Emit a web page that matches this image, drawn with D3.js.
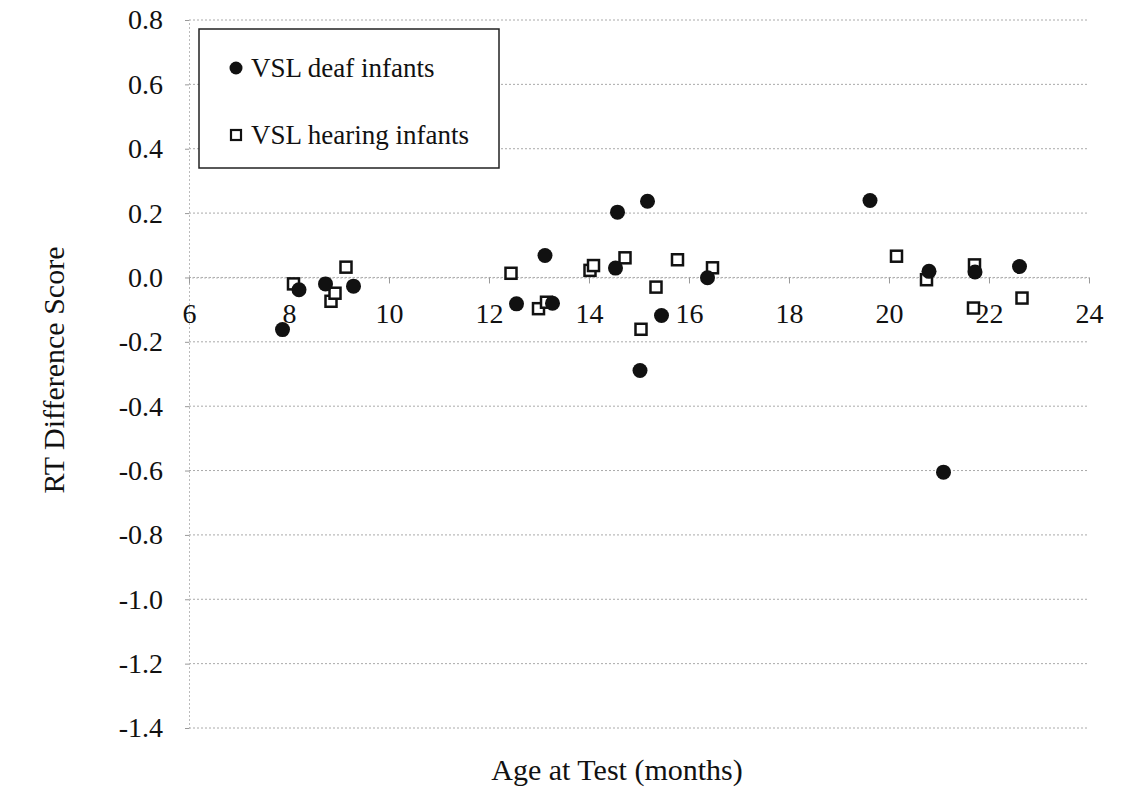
<!DOCTYPE html>
<html>
<meta charset="utf-8">
<script src="https://d3js.org/d3.v7.min.js"></script>
<style>
    body { margin: 0; background: #fff; }
    text { font-family: "Liberation Serif", "Times New Roman", serif; fill: #111; }
</style>
<body>
<svg width="1138" height="792"></svg>
<script>
    // deaf infants (filled circles)
    const deafAge   = [7.87, 8.2, 8.73, 9.29, 12.55, 13.12, 13.27, 14.53, 14.57, 15.02, 15.17, 15.45, 16.37, 19.62, 20.8, 21.09, 21.72, 22.61];
    const deafScore = [-0.162, -0.038, -0.02, -0.027, -0.082, 0.068, -0.08, 0.029, 0.203, -0.289, 0.237, -0.118, -0.001, 0.239, 0.019, -0.605, 0.017, 0.034];
    // hearing infants (open squares)
    const hearAge   = [8.09, 8.84, 8.92, 9.14, 12.44, 12.99, 13.15, 14.02, 14.09, 14.72, 15.04, 15.34, 15.77, 16.47, 20.15, 20.75, 21.69, 21.71, 22.66];
    const hearScore = [-0.02, -0.074, -0.049, 0.032, 0.013, -0.097, -0.077, 0.022, 0.037, 0.061, -0.161, -0.03, 0.055, 0.03, 0.066, -0.007, -0.095, 0.039, -0.064];

    const xTicks = [6, 8, 10, 12, 14, 16, 18, 20, 22, 24];
    const yTicks = [0.8, 0.6, 0.4, 0.2, 0.0, -0.2, -0.4, -0.6, -0.8, -1.0, -1.2, -1.4];
    const legendLabels = ["VSL deaf infants", "VSL hearing infants"];

    const svg = d3.select("svg");
    const x = d3.scaleLinear().domain([6, 24]).range([189, 1089]);
    const y = d3.scaleLinear().domain([-1.4, 0.8]).range([728, 20]);

    // gridlines
    svg.append("g").selectAll("line")
        .data(yTicks)
        .enter().append("line")
        .attr("x1", x(6)).attr("x2", x(24))
        .attr("y1", d => y(d)).attr("y2", d => y(d))
        .style("stroke", "#aaa").style("stroke-width", 1).style("stroke-dasharray", "2,2");

    // y axis
    const yAxis = d3.axisLeft(y).tickValues(yTicks).tickSize(4).tickPadding(22);
    const gy = svg.append("g").attr("transform", `translate(${x(6)},0)`).call(yAxis);
    gy.select(".domain").style("stroke", "#bbb").style("stroke-dasharray", "2,2");
    gy.selectAll(".tick line").style("stroke", "#999");
    gy.selectAll("text")
        .style("font-size", "28px").style("font-family", "Liberation Serif")
        .text(d => d3.format(".1f")(d).replace("−", "-"));

    // x axis crossing at y = 0
    const xAxis = d3.axisBottom(x).tickValues(xTicks).tickSize(6).tickPadding(20);
    const gx = svg.append("g").attr("transform", `translate(0,${y(0)})`).call(xAxis);
    gx.select(".domain").style("stroke", "#bbb").style("stroke-dasharray", "2,2");
    gx.selectAll(".tick line").style("stroke", "#999");
    gx.selectAll("text").style("font-size", "28px").style("font-family", "Liberation Serif");

    // points
    const hear = hearAge.map((a, i) => ({ a, s: hearScore[i] }));
    const deaf = deafAge.map((a, i) => ({ a, s: deafScore[i] }));

    svg.append("g").selectAll("rect")
        .data(hear)
        .enter().append("rect")
        .attr("x", d => x(d.a) - 5.5).attr("y", d => y(d.s) - 5.5)
        .attr("width", 11).attr("height", 11)
        .style("fill", "#fff").style("stroke", "#111").style("stroke-width", 2.5);

    svg.append("g").selectAll("circle")
        .data(deaf)
        .enter().append("circle")
        .attr("cx", d => x(d.a)).attr("cy", d => y(d.s))
        .attr("r", 7.5)
        .style("fill", "#111");

    // legend
    const legend = svg.append("g");
    legend.append("rect")
        .attr("x", 199).attr("y", 29).attr("width", 300).attr("height", 139)
        .style("fill", "#fff").style("stroke", "#222").style("stroke-width", 1.5);
    legend.append("circle").attr("cx", 236).attr("cy", 68).attr("r", 6.5).style("fill", "#111");
    legend.append("rect").attr("x", 231).attr("y", 130).attr("width", 10).attr("height", 10)
        .style("fill", "#fff").style("stroke", "#111").style("stroke-width", 2.2);
    legend.selectAll("text.leg")
        .data(legendLabels)
        .enter().append("text")
        .attr("class", "leg")
        .attr("x", 251).attr("y", (d, i) => 68 + i * 67)
        .attr("dy", "0.33em")
        .style("font-size", "27px")
        .text(d => d);

    // axis titles
    svg.append("text")
        .attr("transform", `translate(54,370) rotate(-90)`)
        .attr("text-anchor", "middle")
        .attr("dy", "0.33em")
        .style("font-size", "30px")
        .text("RT Difference Score");
    svg.append("text")
        .attr("x", 617).attr("y", 780)
        .attr("text-anchor", "middle")
        .style("font-size", "30px")
        .text("Age at Test (months)");
</script>
</body>
</html>
